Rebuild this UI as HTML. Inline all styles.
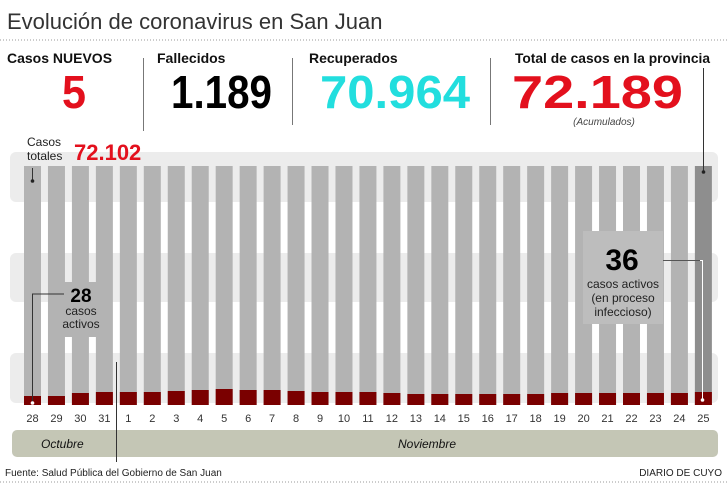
<!DOCTYPE html>
<html><head><meta charset="utf-8"><style>
body{margin:0;background:#fff;width:728px;height:485px;overflow:hidden}
svg{display:block;font-family:"Liberation Sans",sans-serif}
</style></head><body>
<svg width="728" height="485" viewBox="0 0 728 485">
<text x="7" y="29" font-size="22" fill="#333">Evolución de coronavirus en San Juan</text>
<line x1="0" y1="40" x2="728" y2="40" stroke="#999" stroke-dasharray="1,2"/>
<g font-weight="bold" font-size="14" fill="#111">
<text x="7" y="63">Casos NUEVOS</text>
<text x="157" y="63">Fallecidos</text>
<text x="309" y="63">Recuperados</text>
<text x="515" y="63" textLength="195" lengthAdjust="spacingAndGlyphs">Total de casos en la provincia</text>
</g>
<g font-weight="bold" font-size="46">
<text x="62" y="108" fill="#e3101d" textLength="24" lengthAdjust="spacingAndGlyphs">5</text>
<text x="171" y="108" fill="#000" textLength="101" lengthAdjust="spacingAndGlyphs">1.189</text>
<text x="320" y="108" fill="#22dede" textLength="150" lengthAdjust="spacingAndGlyphs">70.964</text>
<text x="512" y="108" fill="#e3101d" textLength="171" lengthAdjust="spacingAndGlyphs">72.189</text>
</g>
<text x="604" y="125" font-size="10" font-style="italic" fill="#444" text-anchor="middle">(Acumulados)</text>
<g stroke="#777" stroke-width="1">
<line x1="143.5" y1="58" x2="143.5" y2="131"/>
<line x1="292.5" y1="58" x2="292.5" y2="125"/>
<line x1="490.5" y1="58" x2="490.5" y2="125"/>
</g>
<g fill="#ececec">
<rect x="10" y="152" width="708" height="50" rx="6"/>
<rect x="10" y="253" width="708" height="49" rx="6"/>
<rect x="10" y="353" width="708" height="50" rx="6"/>
</g>
<g id="bars"></g>
<text x="27" y="146" font-size="12" fill="#222">Casos</text>
<text x="27" y="160" font-size="12" fill="#222">totales</text>
<text x="74" y="160" font-size="22" font-weight="bold" fill="#e3101d">72.102</text>
<rect x="60" y="282" width="46" height="55" fill="#b3b3b3"/>
<text x="81" y="302" font-size="19" font-weight="bold" text-anchor="middle" fill="#000">28</text>
<text x="81" y="315" font-size="12" text-anchor="middle" fill="#222">casos</text>
<text x="81" y="328" font-size="12" text-anchor="middle" fill="#222">activos</text>
<polyline points="64,294 32.5,294 32.5,403" fill="none" stroke="#333"/>
<line x1="32.5" y1="168" x2="32.5" y2="180" stroke="#333"/>
<circle cx="32.5" cy="181" r="1.8" fill="#222"/>
<circle cx="32.5" cy="403" r="1.8" fill="#fff"/>
<rect x="583" y="231" width="80" height="93" fill="#bdbdbd"/>
<text x="622" y="270" font-size="30" font-weight="bold" text-anchor="middle" fill="#000">36</text>
<text x="623" y="288" font-size="12" text-anchor="middle" fill="#222">casos activos</text>
<text x="623" y="302" font-size="12" text-anchor="middle" fill="#222">(en proceso</text>
<text x="623" y="316" font-size="12" text-anchor="middle" fill="#222">infeccioso)</text>
<line x1="663" y1="260.5" x2="700" y2="260.5" stroke="#555"/>
<polyline points="700,260.5 702.5,260.5 702.5,400" fill="none" stroke="#fff"/>
<line x1="703.5" y1="68" x2="703.5" y2="172" stroke="#333"/>
<circle cx="703.5" cy="172" r="1.8" fill="#222"/>
<circle cx="702.5" cy="400" r="1.8" fill="#fff"/>
<g id="labels" font-size="11" fill="#333" text-anchor="middle"></g>
<rect x="12" y="430" width="706" height="27" rx="5" fill="#c4c6b5"/>
<text x="41" y="448" font-size="12" font-style="italic" fill="#111">Octubre</text>
<text x="398" y="448" font-size="12" font-style="italic" fill="#111">Noviembre</text>
<line x1="116.5" y1="362" x2="116.5" y2="462" stroke="#333"/>
<text x="5" y="476" font-size="10" fill="#222">Fuente: Salud Pública del Gobierno de San Juan</text>
<text x="722" y="476" font-size="10" fill="#222" text-anchor="end">DIARIO DE CUYO</text>
<line x1="0" y1="482" x2="728" y2="482" stroke="#999" stroke-dasharray="1,2"/>
</svg>
<script>
var days=["28","29","30","31"];for(var i=1;i<=25;i++)days.push(""+i);
var h=[9,9,12,13,13,13,14,15,16,15,15,14,13,13,13,12,11,11,11,11,11,11,12,12,12,12,12,12,13];
var g=document.getElementById("bars"),l=document.getElementById("labels"),s="",t="";
for(var i=0;i<29;i++){var cx=32.5+i*23.96,x=cx-8.5;
s+='<rect x="'+x+'" y="166" width="17" height="239" fill="'+(i==28?'#8e8e8e':'#b3b3b3')+'"/>';
s+='<rect x="'+x+'" y="'+(405-h[i])+'" width="17" height="'+h[i]+'" fill="#7a0000"/>';
t+='<text x="'+cx+'" y="422">'+days[i]+'</text>';}
g.innerHTML=s;l.innerHTML=t;
</script>
</body></html>
